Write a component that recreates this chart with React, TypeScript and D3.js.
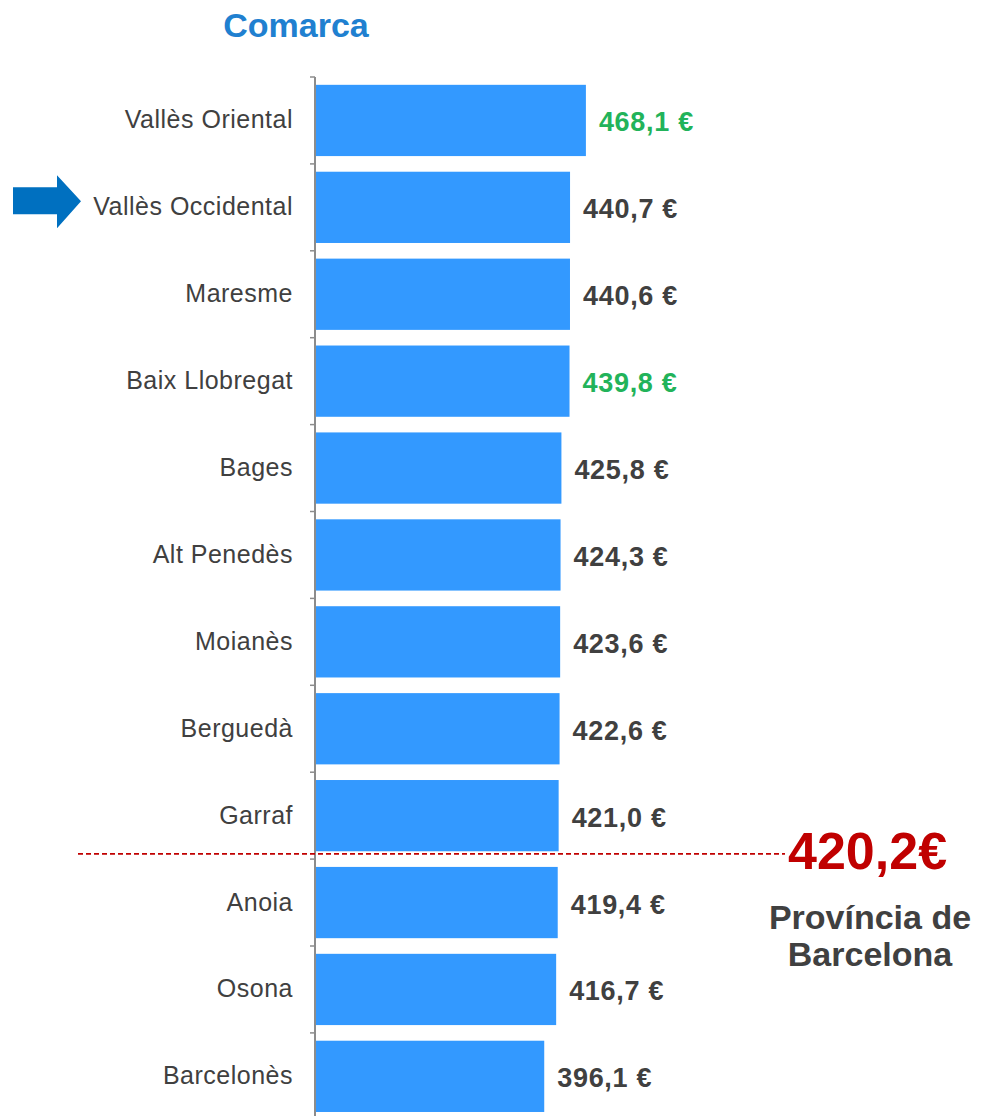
import React from "react";
import * as d3 from "d3";

const categories = [
  "Vallès Oriental",
  "Vallès Occidental",
  "Maresme",
  "Baix Llobregat",
  "Bages",
  "Alt Penedès",
  "Moianès",
  "Berguedà",
  "Garraf",
  "Anoia",
  "Osona",
  "Barcelonès",
];
const values = [468.1, 440.7, 440.6, 439.8, 425.8, 424.3, 423.6, 422.6, 421.0, 419.4, 416.7, 396.1];
const highlighted = ["Vallès Oriental", "Baix Llobregat"];
const arrowCategory = "Vallès Occidental";
const referenceValue = 420.2;
const referenceAfter = "Garraf";
const referenceLines = ["Província de", "Barcelona"];
const title = "Comarca";

const fmt = (v: number) => v.toFixed(1).replace(".", ",");

export default function App() {
  const W = 981;
  const H = 1116;
  const axisX = 315;
  const x = d3.scaleLinear().domain([0, 470]).range([axisX, axisX + 272]);
  const y = d3
    .scaleBand<string>()
    .domain(categories)
    .range([77, 77 + 86.9 * categories.length])
    .padding(0);
  const step = y.step();
  const font = "'Liberation Sans', Arial, sans-serif";
  const refY = (y(referenceAfter) as number) + step * 0.94;
  const arrowC = (y(arrowCategory) as number) + step / 2 - 6;

  return (
    <svg
      width={W}
      height={H}
      style={{ position: "absolute", left: 0, top: 0, display: "block", background: "#fff" }}
      fontFamily={font}
    >
      <text x={296} y={37} textAnchor="middle" fontSize={34} fontWeight="bold" fill="#2080d0">
        {title}
      </text>

      {categories.map((c, i) => {
        const y0 = y(c) as number;
        const cy = y0 + step / 2;
        const green = highlighted.includes(c);
        return (
          <g key={c}>
            <rect
              x={axisX + 1}
              y={y0 + step * 0.09}
              width={x(values[i]) - axisX - 1}
              height={step * 0.82}
              fill="#3399ff"
            />
            <line x1={axisX - 5} x2={axisX} y1={y0} y2={y0} stroke="#8c8c8c" strokeWidth={1.5} />
            <text x={293} y={cy + 8} textAnchor="end" fontSize={25} letterSpacing={0.5} fill="#404040">
              {c}
            </text>
            <text
              x={x(values[i]) + 13}
              y={cy + 11}
              fontSize={27}
              fontWeight="bold"
              letterSpacing={0.7}
              fill={green ? "#22b35a" : "#404040"}
            >
              {fmt(values[i]) + " €"}
            </text>
          </g>
        );
      })}

      <line x1={axisX} x2={axisX} y1={77} y2={H} stroke="#8c8c8c" strokeWidth={2} />

      <line
        x1={78}
        x2={785}
        y1={refY}
        y2={refY}
        stroke="#c00000"
        strokeWidth={1.6}
        strokeDasharray="5,3"
      />
      <text x={788} y={refY + 15} fontSize={52} fontWeight="bold" fill="#c00000">
        {fmt(referenceValue) + "€"}
      </text>
      {referenceLines.map((t, i) => (
        <text
          key={t}
          x={870}
          y={refY + 75 + i * 37}
          textAnchor="middle"
          fontSize={34}
          fontWeight="bold"
          fill="#404040"
        >
          {t}
        </text>
      ))}

      <path
        d={`M13,${arrowC - 14} L57,${arrowC - 14} L57,${arrowC - 26} L81,${arrowC} L57,${arrowC + 27} L57,${arrowC + 13} L13,${arrowC + 13} Z`}
        fill="#0070c0"
      />
    </svg>
  );
}
